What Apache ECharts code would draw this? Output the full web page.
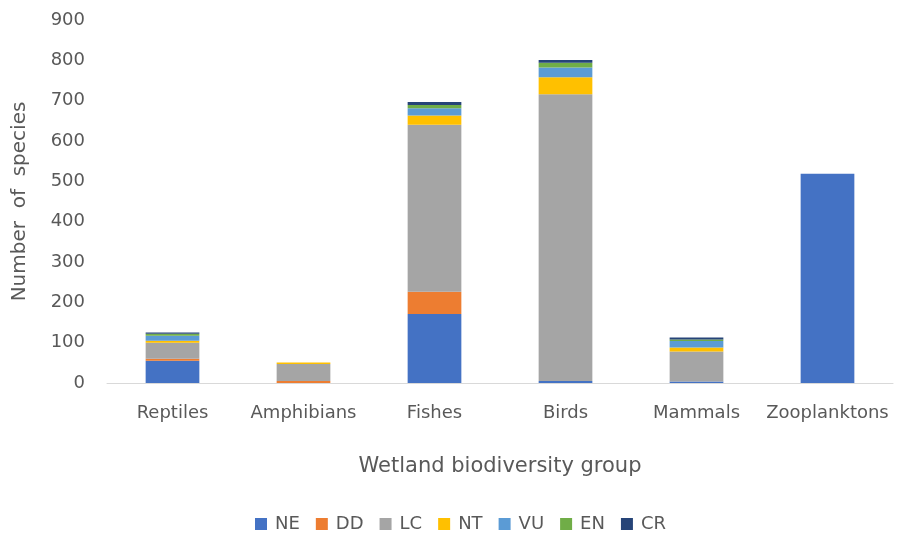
<!DOCTYPE html>
<html><head><meta charset="utf-8">
<script src="https://cdn.jsdelivr.net/npm/echarts@6/dist/echarts.min.js"></script>
<style>html,body{margin:0;padding:0;background:#fff}#c{width:921px;height:534px}</style>
</head><body><div id="c"></div>
<script>
var categories = ['Reptiles','Amphibians','Fishes','Birds','Mammals','Zooplanktons'];
var NE = [55, 0, 171, 5, 4, 519];
var DD = [5, 5, 55, 0, 0, 0];
var LC = [40, 42, 414, 711, 74, 0];
var NT = [5, 4, 23, 42, 10, 0];
var VU = [12, 0, 18, 24, 16, 0];
var EN = [5, 0, 8, 12, 4, 0];
var CR = [3, 0, 8, 7, 5, 0];
var seriesNames = ['NE','DD','LC','NT','VU','EN','CR'];
var seriesData = [NE, DD, LC, NT, VU, EN, CR];
var colors = ['#4472C4','#ED7D31','#A5A5A5','#FFC000','#5B9BD5','#70AD47','#264478'];
var font = 'DejaVu Sans';
var chart = echarts.init(document.getElementById('c'));
chart.setOption({
  animation: false,
  color: colors,
  textStyle: {fontFamily: font},
  grid: {left: 107, right: 28, top: 20, bottom: 151, containLabel: false},
  legend: {
    top: 510, left: 'center', itemWidth: 12, itemHeight: 12, itemGap: 16,
    icon: 'rect', textStyle: {color: '#595959', fontSize: 18, fontFamily: font, padding: [0, 0, 0, 3]},
    data: seriesNames
  },
  xAxis: {
    type: 'category', data: categories,
    name: 'Wetland biodiversity group', nameLocation: 'middle', nameGap: 73,
    nameTextStyle: {color: '#595959', fontSize: 21, fontFamily: font},
    axisLine: {lineStyle: {color: '#D9D9D9'}},
    axisTick: {show: false},
    axisLabel: {color: '#595959', fontSize: 18, margin: 21, interval: 0, fontFamily: font}
  },
  yAxis: {
    type: 'value', min: 0, max: 900, interval: 100,
    name: 'Number  of  species', nameLocation: 'middle', nameGap: 77,
    nameTextStyle: {color: '#595959', fontSize: 20, fontFamily: font},
    axisLine: {show: false}, axisTick: {show: false},
    splitLine: {show: false},
    axisLabel: {color: '#595959', fontSize: 18, margin: 22, fontFamily: font}
  },
  series: seriesNames.map(function(n, i){
    return {name: n, type: 'bar', stack: 'total', barWidth: '41%', data: seriesData[i],
            itemStyle: {color: colors[i]}};
  })
});
</script></body></html>
